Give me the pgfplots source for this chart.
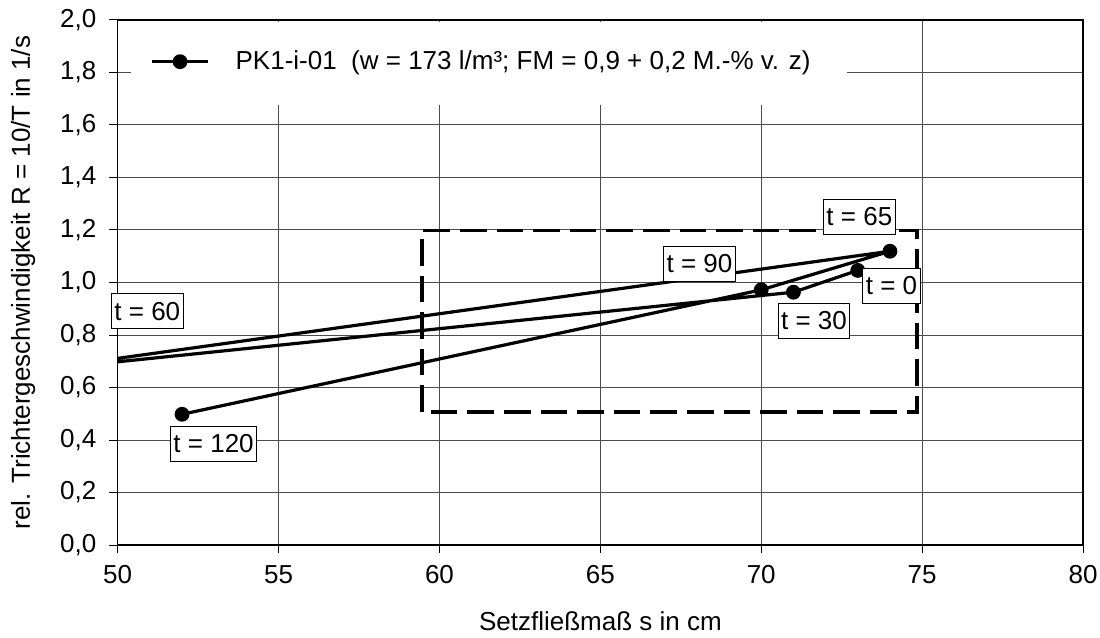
\documentclass[border=0pt]{standalone}
\usepackage{pgfplots}
\pgfplotsset{compat=1.18}
\usepackage{fontspec}
\setmainfont{Liberation Sans}
\newcommand\ff{\fontsize{13}{15.5}\selectfont}
\begin{document}
\begin{tikzpicture}
\begin{axis}[
  name=ax,
  scale only axis,
  width=482.65pt, height=262.5pt,
  xmin=50, xmax=80, ymin=0, ymax=2,
  xtick={50,55,60,65,70,75,80},
  ytick={0,0.2,0.4,0.6,0.8,1.0,1.2,1.4,1.6,1.8,2.0},
  grid=major,
  major grid style={black!70, line width=0.5pt},
  axis line style={line width=0.6pt},
  tick pos=left, tick align=outside, major tick length=4.2pt,
  tick style={black, line width=0.5pt},
  /pgf/number format/assume math mode=true,
  ticklabel style={font=\ff},
  xticklabel style={yshift=-2.5pt, /pgf/number format/.cd, fixed, precision=0},
  yticklabel style={xshift=-3pt, /pgf/number format/.cd, fixed, fixed zerofill, precision=1, use comma},
  xlabel={Setzfließmaß s in cm},
  ylabel={rel. Trichtergeschwindigkeit R = 10/T in 1/s},
  every axis x label/.style={at={(axis description cs:0.5,-0.1619)}, anchor=base, font=\ff},
  every axis y label/.style={at={(axis description cs:-0.0909,0.5)}, anchor=base, rotate=90, font=\ff},
  clip mode=individual,
  legend style={at={(rel axis cs:0.0273,0.9206)}, anchor=west, draw=none, fill=none, font=\ff},
  legend image code/.code={
    \draw[mark repeat=2,mark phase=2,#1] plot coordinates {(0pt,0pt) (14pt,0pt) (28pt,0pt)};
    \path (39pt,0pt);
  },
]
\fill[white] (rel axis cs:0.0138,0.838) rectangle (rel axis cs:0.7555,0.997);
\addplot[black, line width=1.6pt, mark=*, mark size=2.9pt, mark options={solid}]
  coordinates {(73,1.046) (71,0.963) (47,0.66) (74,1.119) (70,0.972) (52,0.498)};
\addlegendentry{PK1-i-01\ \ (w = 173 l/m³; FM = 0,9 + 0,2 M.-\% v. z)}
\draw[black, line width=1.8pt, dash pattern=on 13.3pt off 5pt]
  (axis cs:59.45,0.507) rectangle (axis cs:74.84,1.198);
\tikzset{lbl/.style={draw=black, line width=0.5pt, fill=white, font=\ff, inner xsep=1.5pt, inner ysep=0pt, minimum height=17.5pt}}
\node[lbl] at (axis cs:50.92,0.891) {t = 60};
\node[lbl] at (axis cs:52.98,0.385) {t = 120};
\node[lbl] at (axis cs:73.05,1.250) {t = 65};
\node[lbl] at (axis cs:68.08,1.072) {t = 90};
\node[lbl] at (axis cs:74.05,0.988) {t = 0};
\node[lbl] at (axis cs:71.64,0.855) {t = 30};
\end{axis}
\pgfresetboundingbox
\path[use as bounding box] ([shift={(-58.85pt,-46pt)}]ax.south west) rectangle ([shift={(8.5pt,10pt)}]ax.north east);
\end{tikzpicture}
\end{document}
